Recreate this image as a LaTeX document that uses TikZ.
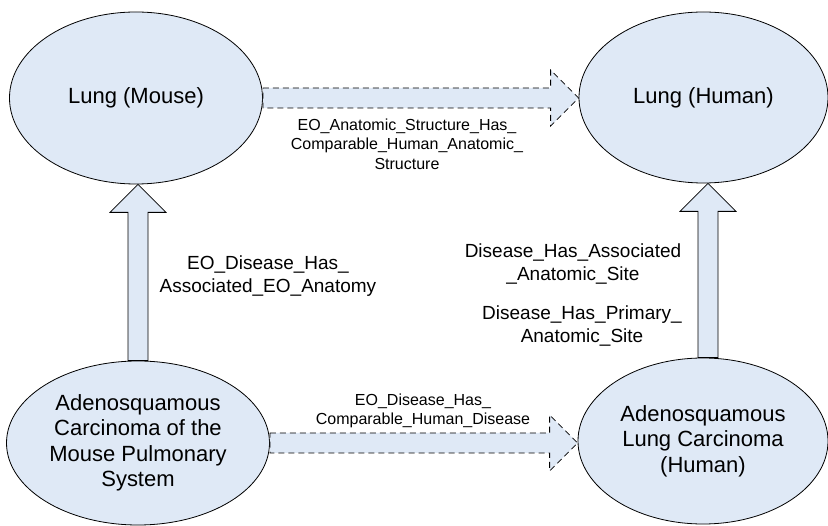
\documentclass[tikz,border=0pt]{standalone}
\usepackage{fontspec}
\setmainfont{Liberation Sans}
\usepackage{tikz}
\usetikzlibrary{shapes,calc}
\definecolor{entblue}{RGB}{223,233,246}

\begin{document}
\begin{tikzpicture}[x=1pt, y=-1pt]
\tikzstyle{ent} = [ellipse, draw = black, fill = entblue, line width = 0.8pt, inner sep = 0pt, align = center, font = \fontsize{22}{25.5}\selectfont]
\tikzstyle{rel} = [draw = black, fill = entblue, line width = 0.8pt, line join = miter]
\tikzstyle{relmap} = [rel, dash pattern = on 6pt off 4pt]
\tikzstyle{lbl} = [align = center, inner sep = 0pt, font = \fontsize{19}{22.5}\selectfont]
\tikzstyle{lblsmall} = [align = center, inner sep = 0pt, font = \fontsize{16}{19.5}\selectfont]
\useasboundingbox (0,0) rectangle (828,526);
\node (lungm) [ent, minimum width = 253pt, minimum height = 172pt] at (136,98) {Lung (Mouse)};
\node (lungh) [ent, minimum width = 249pt, minimum height = 171pt] at (703.5,97.5) {Lung (Human)};
\node (adm) [ent, minimum width = 263pt, minimum height = 164pt] at (138,443) {Adenosquamous\\Carcinoma of the\\Mouse Pulmonary\\System};
\node (adh) [ent, minimum width = 250pt, minimum height = 166pt] at (703,441) {Adenosquamous\\Lung Carcinoma\\(Human)};
% mouse -> human, dashed block arrows
\coordinate (t1) at (lungm.east);
\coordinate (h1) at (lungh.west |- lungm.east);
\draw [relmap] ($(t1)+(0,-10)$) -- ($(h1)+(-28,-10)$) -- ($(h1)+(-28,-28)$) -- (h1) -- ($(h1)+(-28,28)$) -- ($(h1)+(-28,10)$) -- ($(t1)+(0,10)$) -- cycle;
\coordinate (t2) at (adm.east);
\coordinate (h2) at (adh.west |- adm.east);
\draw [relmap] ($(t2)+(0,-10)$) -- ($(h2)+(-28,-10)$) -- ($(h2)+(-28,-28)$) -- (h2) -- ($(h2)+(-28,28)$) -- ($(h2)+(-28,10)$) -- ($(t2)+(0,10)$) -- cycle;
% disease -> anatomy, solid block arrows
\coordinate (t3) at (adm.north);
\coordinate (h3) at (t3 |- lungm.south);
\draw [rel] ($(t3)+(-10,0)$) -- ($(h3)+(-10,28)$) -- ($(h3)+(-28,28)$) -- (h3) -- ($(h3)+(28,28)$) -- ($(h3)+(10,28)$) -- ($(t3)+(10,0)$) -- cycle;
\coordinate (t4) at ($(adh.north)+(5,0)$);
\coordinate (h4) at (t4 |- lungh.south);
\draw [rel] ($(t4)+(-10,0)$) -- ($(h4)+(-10,28)$) -- ($(h4)+(-28,28)$) -- (h4) -- ($(h4)+(28,28)$) -- ($(h4)+(10,28)$) -- ($(t4)+(10,0)$) -- cycle;
% labels
\node (lbltop) [lblsmall] at (407,144) {EO\_Anatomic\_Structure\_Has\_\\Comparable\_Human\_Anatomic\_\\Structure};
\node (lblbot) [lblsmall] at (423,411) {EO\_Disease\_Has\_\\Comparable\_Human\_Disease};
\node (lblleft) [lbl] at (268,276) {EO\_Disease\_Has\_\\Associated\_EO\_Anatomy};
\node (lblassoc) [lbl] at (573,264) {Disease\_Has\_Associated\\\_Anatomic\_Site};
\node (lblprim) [lbl] at (582,326) {Disease\_Has\_Primary\_\\Anatomic\_Site};
\end{tikzpicture}
\end{document}
